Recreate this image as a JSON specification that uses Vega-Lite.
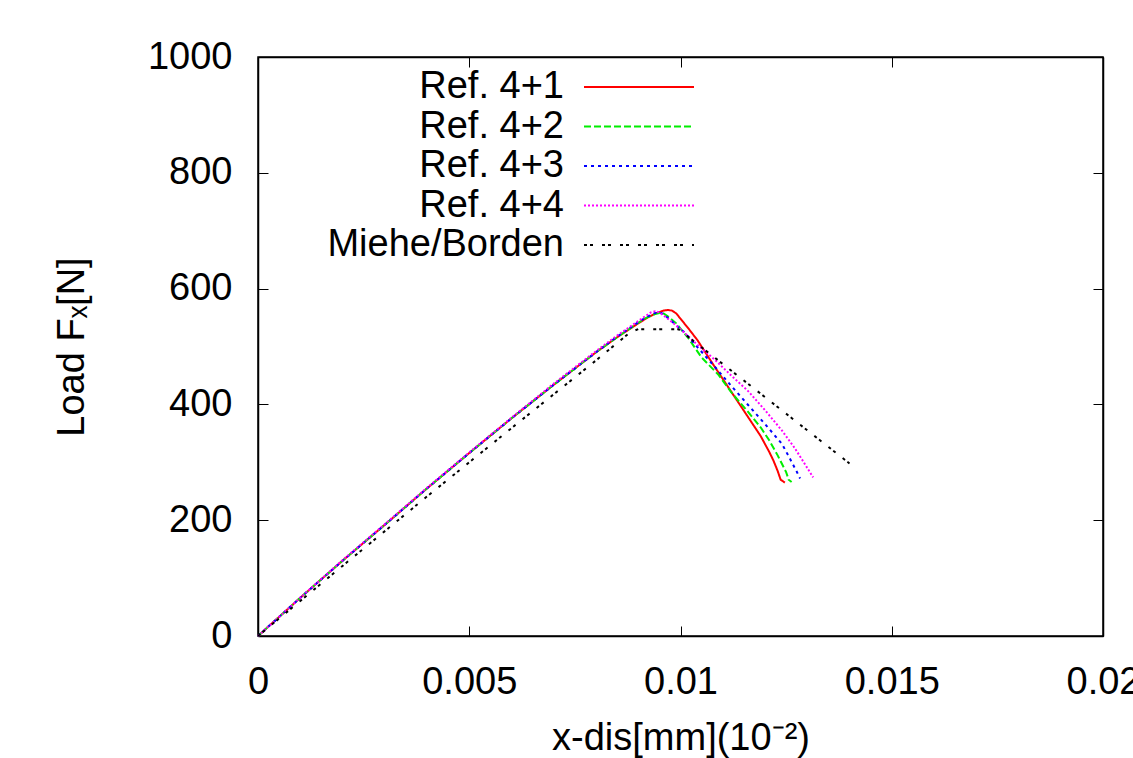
{
  "$schema": "https://vega.github.io/schema/vega-lite/v6.json",
  "width": 845,
  "height": 579,
  "autosize": {"type": "none"},
  "padding": {"left": 258, "top": 57, "right": 30, "bottom": 122},
  "background": "white",
  "config": {
    "font": "Liberation Sans",
    "view": {"stroke": "black", "strokeWidth": 1.5},
    "axis": {
      "labelFont": "Liberation Sans",
      "titleFont": "Liberation Sans",
      "labelFontSize": 38,
      "titleFontSize": 38,
      "titleFontWeight": "normal",
      "labelColor": "black",
      "titleColor": "black",
      "domainColor": "black",
      "tickColor": "black",
      "domainWidth": 1.5,
      "tickWidth": 1,
      "grid": false,
      "labelFlush": false,
      "labelOverlap": false,
      "labelBound": false
    },
    "legend": {
      "labelFont": "Liberation Sans",
      "labelFontSize": 38,
      "labelColor": "black"
    }
  },
  "data": {
    "values": [
      {"s": "Ref. 4+1", "x": 0, "y": 0},
      {"s": "Ref. 4+1", "x": 0.001, "y": 66},
      {"s": "Ref. 4+1", "x": 0.002, "y": 130},
      {"s": "Ref. 4+1", "x": 0.003, "y": 192},
      {"s": "Ref. 4+1", "x": 0.004, "y": 255},
      {"s": "Ref. 4+1", "x": 0.005, "y": 316},
      {"s": "Ref. 4+1", "x": 0.006, "y": 376},
      {"s": "Ref. 4+1", "x": 0.007, "y": 434},
      {"s": "Ref. 4+1", "x": 0.008, "y": 490},
      {"s": "Ref. 4+1", "x": 0.0085, "y": 516},
      {"s": "Ref. 4+1", "x": 0.009, "y": 540},
      {"s": "Ref. 4+1", "x": 0.0092, "y": 549},
      {"s": "Ref. 4+1", "x": 0.0094, "y": 557},
      {"s": "Ref. 4+1", "x": 0.0096, "y": 562},
      {"s": "Ref. 4+1", "x": 0.0097, "y": 563},
      {"s": "Ref. 4+1", "x": 0.0098, "y": 562},
      {"s": "Ref. 4+1", "x": 0.0099, "y": 557},
      {"s": "Ref. 4+1", "x": 0.01, "y": 548},
      {"s": "Ref. 4+1", "x": 0.0102, "y": 530},
      {"s": "Ref. 4+1", "x": 0.0104, "y": 511},
      {"s": "Ref. 4+1", "x": 0.0108, "y": 466},
      {"s": "Ref. 4+1", "x": 0.0112, "y": 422},
      {"s": "Ref. 4+1", "x": 0.0116, "y": 378},
      {"s": "Ref. 4+1", "x": 0.0119, "y": 345},
      {"s": "Ref. 4+1", "x": 0.0121, "y": 318},
      {"s": "Ref. 4+1", "x": 0.0122, "y": 303},
      {"s": "Ref. 4+1", "x": 0.0123, "y": 285},
      {"s": "Ref. 4+1", "x": 0.01237, "y": 270},
      {"s": "Ref. 4+1", "x": 0.01247, "y": 265},

      {"s": "Ref. 4+2", "x": 0, "y": 0},
      {"s": "Ref. 4+2", "x": 0.001, "y": 66},
      {"s": "Ref. 4+2", "x": 0.002, "y": 130},
      {"s": "Ref. 4+2", "x": 0.003, "y": 192},
      {"s": "Ref. 4+2", "x": 0.004, "y": 255},
      {"s": "Ref. 4+2", "x": 0.005, "y": 316},
      {"s": "Ref. 4+2", "x": 0.006, "y": 376},
      {"s": "Ref. 4+2", "x": 0.007, "y": 434},
      {"s": "Ref. 4+2", "x": 0.008, "y": 490},
      {"s": "Ref. 4+2", "x": 0.0085, "y": 516},
      {"s": "Ref. 4+2", "x": 0.009, "y": 541},
      {"s": "Ref. 4+2", "x": 0.0092, "y": 550},
      {"s": "Ref. 4+2", "x": 0.0094, "y": 556},
      {"s": "Ref. 4+2", "x": 0.0095, "y": 558},
      {"s": "Ref. 4+2", "x": 0.0096, "y": 557},
      {"s": "Ref. 4+2", "x": 0.0097, "y": 552},
      {"s": "Ref. 4+2", "x": 0.0099, "y": 540},
      {"s": "Ref. 4+2", "x": 0.0102, "y": 513},
      {"s": "Ref. 4+2", "x": 0.0105, "y": 481},
      {"s": "Ref. 4+2", "x": 0.0109, "y": 451},
      {"s": "Ref. 4+2", "x": 0.0112, "y": 421},
      {"s": "Ref. 4+2", "x": 0.0116, "y": 387},
      {"s": "Ref. 4+2", "x": 0.0119, "y": 360},
      {"s": "Ref. 4+2", "x": 0.0121, "y": 338},
      {"s": "Ref. 4+2", "x": 0.0123, "y": 312},
      {"s": "Ref. 4+2", "x": 0.0125, "y": 283},
      {"s": "Ref. 4+2", "x": 0.01256, "y": 270},
      {"s": "Ref. 4+2", "x": 0.01263, "y": 266},

      {"s": "Ref. 4+3", "x": 0, "y": 0},
      {"s": "Ref. 4+3", "x": 0.001, "y": 66},
      {"s": "Ref. 4+3", "x": 0.002, "y": 130},
      {"s": "Ref. 4+3", "x": 0.003, "y": 192},
      {"s": "Ref. 4+3", "x": 0.004, "y": 255},
      {"s": "Ref. 4+3", "x": 0.005, "y": 316},
      {"s": "Ref. 4+3", "x": 0.006, "y": 376},
      {"s": "Ref. 4+3", "x": 0.007, "y": 434},
      {"s": "Ref. 4+3", "x": 0.008, "y": 490},
      {"s": "Ref. 4+3", "x": 0.0085, "y": 517},
      {"s": "Ref. 4+3", "x": 0.009, "y": 542},
      {"s": "Ref. 4+3", "x": 0.0092, "y": 551},
      {"s": "Ref. 4+3", "x": 0.0094, "y": 558},
      {"s": "Ref. 4+3", "x": 0.0095, "y": 559},
      {"s": "Ref. 4+3", "x": 0.0096, "y": 556},
      {"s": "Ref. 4+3", "x": 0.0098, "y": 543},
      {"s": "Ref. 4+3", "x": 0.0101, "y": 524},
      {"s": "Ref. 4+3", "x": 0.0104, "y": 499},
      {"s": "Ref. 4+3", "x": 0.0108, "y": 466},
      {"s": "Ref. 4+3", "x": 0.0112, "y": 432},
      {"s": "Ref. 4+3", "x": 0.0116, "y": 399},
      {"s": "Ref. 4+3", "x": 0.012, "y": 366},
      {"s": "Ref. 4+3", "x": 0.0124, "y": 332},
      {"s": "Ref. 4+3", "x": 0.0126, "y": 305},
      {"s": "Ref. 4+3", "x": 0.01275, "y": 284},
      {"s": "Ref. 4+3", "x": 0.01283, "y": 272},

      {"s": "Ref. 4+4", "x": 0, "y": 0},
      {"s": "Ref. 4+4", "x": 0.001, "y": 66},
      {"s": "Ref. 4+4", "x": 0.002, "y": 131},
      {"s": "Ref. 4+4", "x": 0.003, "y": 193},
      {"s": "Ref. 4+4", "x": 0.004, "y": 256},
      {"s": "Ref. 4+4", "x": 0.005, "y": 317},
      {"s": "Ref. 4+4", "x": 0.006, "y": 377},
      {"s": "Ref. 4+4", "x": 0.007, "y": 436},
      {"s": "Ref. 4+4", "x": 0.008, "y": 492},
      {"s": "Ref. 4+4", "x": 0.0085, "y": 519},
      {"s": "Ref. 4+4", "x": 0.009, "y": 544},
      {"s": "Ref. 4+4", "x": 0.0092, "y": 554},
      {"s": "Ref. 4+4", "x": 0.0093, "y": 559},
      {"s": "Ref. 4+4", "x": 0.0094, "y": 561},
      {"s": "Ref. 4+4", "x": 0.0095, "y": 559},
      {"s": "Ref. 4+4", "x": 0.0097, "y": 548},
      {"s": "Ref. 4+4", "x": 0.01, "y": 530},
      {"s": "Ref. 4+4", "x": 0.0104, "y": 503},
      {"s": "Ref. 4+4", "x": 0.0108, "y": 478},
      {"s": "Ref. 4+4", "x": 0.0112, "y": 450},
      {"s": "Ref. 4+4", "x": 0.0116, "y": 423},
      {"s": "Ref. 4+4", "x": 0.012, "y": 390},
      {"s": "Ref. 4+4", "x": 0.0124, "y": 355},
      {"s": "Ref. 4+4", "x": 0.0127, "y": 325},
      {"s": "Ref. 4+4", "x": 0.0129, "y": 302},
      {"s": "Ref. 4+4", "x": 0.01314, "y": 274},

      {"s": "Miehe/Borden", "x": 0, "y": 0},
      {"s": "Miehe/Borden", "x": 0.002, "y": 121},
      {"s": "Miehe/Borden", "x": 0.004, "y": 241},
      {"s": "Miehe/Borden", "x": 0.006, "y": 359},
      {"s": "Miehe/Borden", "x": 0.008, "y": 476},
      {"s": "Miehe/Borden", "x": 0.0088, "y": 524},
      {"s": "Miehe/Borden", "x": 0.009, "y": 530},
      {"s": "Miehe/Borden", "x": 0.00995, "y": 530},
      {"s": "Miehe/Borden", "x": 0.014, "y": 298}
    ]
  },
  "layer": [
    {
      "mark": {"type": "line", "strokeWidth": 2},
      "encoding": {
        "x": {
          "field": "x", "type": "quantitative",
          "scale": {"domain": [0, 0.02], "nice": false, "zero": false},
          "axis": {
            "values": [0, 0.005, 0.01, 0.015, 0.02],
            "format": "~g",
            "tickSize": -10,
            "labelPadding": 37,
            "title": "x-dis[mm](10⁻²)",
            "titlePadding": 18
          }
        },
        "y": {
          "field": "y", "type": "quantitative",
          "scale": {"domain": [0, 1000], "nice": false},
          "axis": {
            "values": [0, 200, 400, 600, 800, 1000],
            "format": "d",
            "tickSize": -10,
            "labelPadding": 36,
            "title": "Load Fₓ[N]",
            "titlePadding": 56
          }
        },
        "color": {
          "field": "s", "type": "nominal",
          "scale": {
            "domain": ["Ref. 4+1", "Ref. 4+2", "Ref. 4+3", "Ref. 4+4", "Miehe/Borden"],
            "range": ["#ff0000", "#00ee00", "#0000ff", "#ff00ff", "#000000"]
          },
          "legend": {
            "orient": "none",
            "legendX": 362,
            "legendY": 11,
            "title": null,
            "symbolType": "M-10,0H10",
            "symbolSize": 121,
            "symbolStrokeWidth": 2,
            "rowPadding": 1.5,
            "labelAlign": "right",
            "labelOffset": -94,
            "labelLimit": 0,
            "padding": 0
          }
        },
        "strokeDash": {
          "field": "s", "type": "nominal",
          "scale": {
            "domain": ["Ref. 4+1", "Ref. 4+2", "Ref. 4+3", "Ref. 4+4", "Miehe/Borden"],
            "range": [[1, 0], [7, 3], [3, 4], [2, 2], [3, 3, 3, 9]]
          },
          "legend": {
            "orient": "none",
            "legendX": 362,
            "legendY": 11,
            "title": null,
            "symbolType": "M-10,0H10",
            "symbolSize": 121,
            "symbolStrokeWidth": 2,
            "rowPadding": 1.5,
            "labelAlign": "right",
            "labelOffset": -94,
            "labelLimit": 0,
            "padding": 0
          }
        }
      }
    },
    {
      "mark": {"type": "point", "opacity": 0},
      "encoding": {
        "x": {
          "field": "x", "type": "quantitative",
          "axis": {
            "orient": "top",
            "values": [0, 0.005, 0.01, 0.015, 0.02],
            "labels": false,
            "tickSize": -10,
            "title": null
          }
        },
        "y": {
          "field": "y", "type": "quantitative",
          "axis": {
            "orient": "right",
            "values": [0, 200, 400, 600, 800, 1000],
            "labels": false,
            "tickSize": -10,
            "title": null
          }
        }
      }
    }
  ],
  "resolve": {"axis": {"x": "independent", "y": "independent"}}
}
